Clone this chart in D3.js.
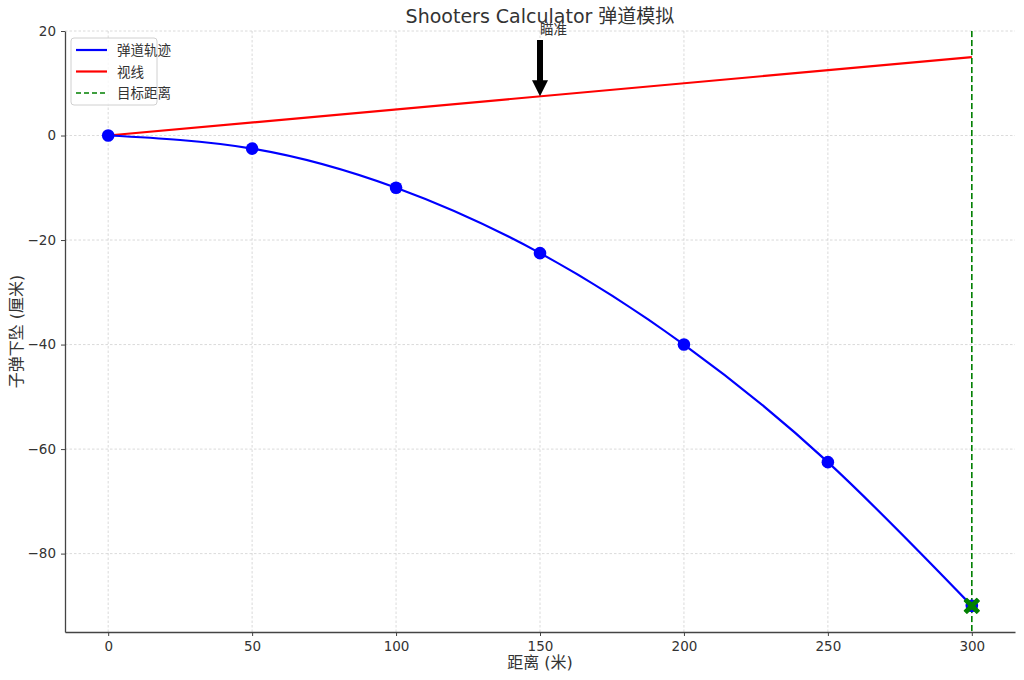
<!DOCTYPE html>
<html><head><meta charset="utf-8">
<script src="https://cdn.jsdelivr.net/npm/d3@7/dist/d3.min.js"></script>
<style>
body{margin:0;background:#fff;}
svg text{font-family:"DejaVu Sans","Noto Sans CJK SC",sans-serif;}
</style></head>
<body><svg id="c" width="1024" height="680"></svg>
<script>
// ---- data ----
const distances = [0, 50, 100, 150, 200, 250, 300];
const trajectory = [0, -2.5, -10, -22.5, -40, -62.5, -90];
const sightStart = [0, 0];
const sightEnd = [300, 15];
const targetDistance = 300;
const targetDrop = -90;
const xTicks = [0, 50, 100, 150, 200, 250, 300];
const yTicks = [-80, -60, -40, -20, 0, 20];
const annotationPoint = [150, 7.5];
const annotationText = [150, 20];
const labels = {title:"Shooters Calculator 弹道模拟", x:"距离 (米)", y:"子弹下坠 (厘米)",
  traj:"弹道轨迹", sight:"视线", target:"目标距离", note:"瞄准"};

const svg = d3.select("#c");
const m = {l:65, r:1015, t:31, b:632};
const x = d3.scaleLinear().domain([-15, 315]).range([m.l, m.r]);
const y = d3.scaleLinear().domain([-95, 20]).range([m.b, m.t]);

// grid
const g = svg.append("g");
g.selectAll(".gx").data(xTicks).join("line")
  .attr("x1", d=>x(d)).attr("x2", d=>x(d)).attr("y1", m.t).attr("y2", m.b)
  .attr("stroke", "#d0d0d0").attr("stroke-width", 0.8).attr("stroke-dasharray", "2.5,2");
g.selectAll(".gy").data(yTicks).join("line")
  .attr("y1", d=>y(d)).attr("y2", d=>y(d)).attr("x1", m.l).attr("x2", m.r)
  .attr("stroke", "#d0d0d0").attr("stroke-width", 0.8).attr("stroke-dasharray", "2.5,2");

// axes
const fmt = d => d < 0 ? "\u2212" + Math.abs(d) : String(d);
const xa = svg.append("g").attr("transform", `translate(0,${m.b})`)
  .call(d3.axisBottom(x).tickValues(xTicks).tickFormat(fmt).tickSize(4).tickPadding(5).tickSizeOuter(0));
const ya = svg.append("g").attr("transform", `translate(${m.l},0)`)
  .call(d3.axisLeft(y).tickValues(yTicks).tickFormat(fmt).tickSize(4).tickPadding(5).tickSizeOuter(0));
[xa, ya].forEach(a => {
  a.attr("font-size", null).attr("font-family", null);
  a.select(".domain").attr("stroke", "#444").attr("stroke-width", 1.3);
  a.selectAll(".tick line").attr("stroke", "#444");
  a.selectAll(".tick text").style("font-size", "13.5px").attr("fill", "#333")
    .style("font-family", '"DejaVu Sans",sans-serif');
});

// sight line
svg.append("line")
  .attr("x1", x(sightStart[0])).attr("y1", y(sightStart[1]))
  .attr("x2", x(sightEnd[0])).attr("y2", y(sightEnd[1]))
  .attr("stroke", "#ff0000").attr("stroke-width", 2.2);

// target vertical line
svg.append("line")
  .attr("x1", x(targetDistance)).attr("x2", x(targetDistance)).attr("y1", m.t).attr("y2", m.b)
  .attr("stroke", "#008000").attr("stroke-width", 1.6).attr("stroke-dasharray", "6,3");

// trajectory
const pts = distances.map((d,i)=>[d, trajectory[i]]);
svg.append("path").datum(pts)
  .attr("d", d3.line().x(d=>x(d[0])).y(d=>y(d[1])).curve(d3.curveNatural))
  .attr("fill", "none").attr("stroke", "#0000ff").attr("stroke-width", 2.2);
svg.selectAll(".pt").data(pts).join("circle")
  .attr("cx", d=>x(d[0])).attr("cy", d=>y(d[1])).attr("r", 6.3).attr("fill", "#0000ff");

// target X marker
const s = 7.5, w = 2.6;
const xPath = `M${-s+w},${-s} L0,${-w} L${s-w},${-s} L${s},${-s+w} L${w},0 L${s},${s-w} L${s-w},${s} L0,${w} L${-s+w},${s} L${-s},${s-w} L${-w},0 L${-s},${-s+w} Z`;
svg.append("path").attr("d", xPath)
  .attr("transform", `translate(${x(targetDistance)},${y(targetDrop)})`)
  .attr("fill", "#008000").attr("stroke", "#008000").attr("stroke-width", 1.2).attr("stroke-linejoin", "round");

// annotation arrow
const ax = x(annotationPoint[0]), tipY = y(annotationPoint[1]);
const startY = y(annotationText[1]) + 9;
const headLen = 16, headW = 8, shaftW = 3;
svg.append("path")
  .attr("d", `M${ax-shaftW},${startY} L${ax+shaftW},${startY} L${ax+shaftW},${tipY-headLen} L${ax+headW},${tipY-headLen} L${ax},${tipY} L${ax-headW},${tipY-headLen} L${ax-shaftW},${tipY-headLen} Z`)
  .attr("fill", "#000");
svg.append("text").attr("x", ax).attr("y", y(annotationText[1]) + 3)
  .attr("font-size", 13.5).attr("fill", "#333").text(labels.note);

// title & labels
svg.append("text").attr("x", (m.l+m.r)/2).attr("y", 23).attr("text-anchor", "middle")
  .attr("font-size", 19).attr("fill", "#333").text(labels.title);
svg.append("text").attr("x", (m.l+m.r)/2).attr("y", 668).attr("text-anchor", "middle")
  .attr("font-size", 16).attr("fill", "#333").text(labels.x);
svg.append("text").attr("transform", `translate(22,${(m.t+m.b)/2}) rotate(-90)`).attr("text-anchor", "middle")
  .attr("font-size", 16).attr("fill", "#333").text(labels.y);

// legend
const lg = svg.append("g").attr("transform", "translate(71,38)");
lg.append("rect").attr("width", 86).attr("height", 67).attr("rx", 3)
  .attr("fill", "#fff").attr("fill-opacity", 0.8).attr("stroke", "#d0d0d0");
const items = [
  {label: labels.traj, color: "#0000ff", dash: null},
  {label: labels.sight, color: "#ff0000", dash: null},
  {label: labels.target, color: "#008000", dash: "5,3"}
];
items.forEach((it, i) => {
  const yy = 12 + i * 21.5;
  lg.append("line").attr("x1", 5).attr("x2", 36).attr("y1", yy).attr("y2", yy)
    .attr("stroke", it.color).attr("stroke-width", it.dash ? 1.6 : 2.2)
    .attr("stroke-dasharray", it.dash);
  lg.append("text").attr("x", 46).attr("y", yy + 5).attr("font-size", 13.5).attr("fill", "#333").text(it.label);
});
</script></body></html>
